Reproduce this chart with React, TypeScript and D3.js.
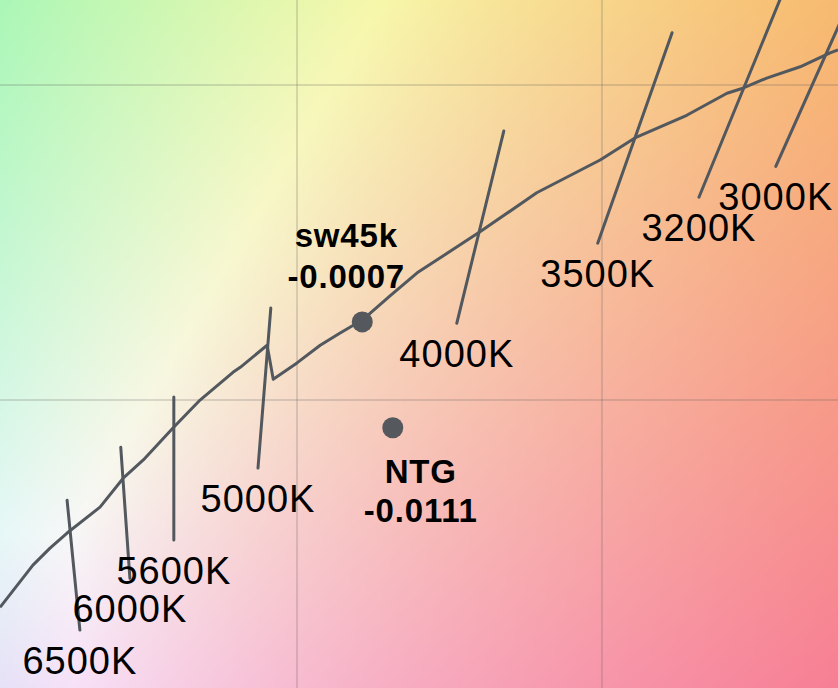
import React, { useEffect, useRef } from 'react';
import * as d3 from 'd3';

const WIDTH = 838;
const HEIGHT = 688;

// visible window of the CIE 1931 xy diagram
const xDomain = [0.3013, 0.4387];
const yDomain = [0.3043, 0.4135];

const gridX = [0.35, 0.4];
const gridY = [0.35, 0.4];

// planckian locus
const locusX = [0.3013, 0.3067, 0.3095, 0.3123, 0.3177, 0.3215, 0.3248, 0.3297, 0.3341, 0.3395, 0.3407, 0.3451, 0.3461, 0.35, 0.3538, 0.357, 0.3607, 0.3652, 0.3697, 0.38, 0.3893, 0.3997, 0.4054, 0.4139, 0.4205, 0.4231, 0.427, 0.4325, 0.4374, 0.4387];
const locusY = [0.3171, 0.3238, 0.3265, 0.3289, 0.333, 0.3376, 0.3405, 0.3456, 0.35, 0.3544, 0.3552, 0.3587, 0.3533, 0.3559, 0.3587, 0.3606, 0.3627, 0.3665, 0.3702, 0.3767, 0.3829, 0.3881, 0.3916, 0.3952, 0.3987, 0.3995, 0.4011, 0.4029, 0.4051, 0.4056];

// isotherm lines
const isoLabels = ['6500K', '6000K', '5600K', '5000K', '4000K', '3500K', '3200K', '3000K'];
const isoTopX = [0.3123, 0.3211, 0.3298, 0.3457, 0.3839, 0.4115, 0.4295, 0.4407];
const isoTopY = [0.3341, 0.3425, 0.3505, 0.3646, 0.3927, 0.4083, 0.4143, 0.4135];
const isoBottomX = [0.3144, 0.3226, 0.3298, 0.3436, 0.3762, 0.3993, 0.4159, 0.4285];
const isoBottomY = [0.3135, 0.3217, 0.3278, 0.3392, 0.3622, 0.3749, 0.3822, 0.3871];

// measured sources
const pointNames = ['sw45k', 'NTG'];
const pointX = [0.3607, 0.3657];
const pointY = [0.3624, 0.3456];
const pointDuv = ['-0.0007', '-0.0111'];

const labelPlacement = [
  { dx: -16, lines: [-75, -34] },
  { dx: 28, lines: [55, 94] },
];

const LINE_COLOR = '#52585e';
const FONT = '"Liberation Sans", Arial, Helvetica, sans-serif';

function chromaColor(cx: number, cy: number): [number, number, number] {
  const X = cx / cy;
  const Y = 1;
  const Z = (1 - cx - cy) / cy;
  let r = 3.2406 * X - 1.5372 * Y - 0.4986 * Z;
  let g = -0.9689 * X + 1.8758 * Y + 0.0415 * Z;
  let b = 0.0557 * X - 0.204 * Y + 1.057 * Z;
  r = Math.max(r, 0);
  g = Math.max(g, 0);
  b = Math.max(b, 0);
  const m = Math.max(r, g, b);
  const gam = (v: number) => {
    const c = v / m;
    const s = c <= 0.0031308 ? 12.92 * c : 1.055 * Math.pow(c, 1 / 2.4) - 0.055;
    return Math.round(255 * (0.9 * s + 0.07));
  };
  return [gam(r), gam(g), gam(b)];
}

const App = () => {
  const svgRef = useRef<SVGSVGElement>(null);

  useEffect(() => {
    const x = d3.scaleLinear().domain(xDomain).range([0, WIDTH]);
    const y = d3.scaleLinear().domain(yDomain).range([HEIGHT, 0]);

    const svg = d3.select(svgRef.current).attr('width', WIDTH).attr('height', HEIGHT);
    svg.selectAll('*').remove();

    // background colour field
    const canvas = document.createElement('canvas');
    canvas.width = WIDTH;
    canvas.height = HEIGHT;
    const ctx = canvas.getContext('2d');
    if (ctx) {
      const img = ctx.createImageData(WIDTH, HEIGHT);
      for (let py = 0; py < HEIGHT; py++) {
        const cy = y.invert(py);
        for (let px = 0; px < WIDTH; px++) {
          const [r, g, b] = chromaColor(x.invert(px), cy);
          const i = (py * WIDTH + px) * 4;
          img.data[i] = r;
          img.data[i + 1] = g;
          img.data[i + 2] = b;
          img.data[i + 3] = 255;
        }
      }
      ctx.putImageData(img, 0, 0);
      svg.append('image')
        .attr('href', canvas.toDataURL())
        .attr('x', 0)
        .attr('y', 0)
        .attr('width', WIDTH)
        .attr('height', HEIGHT);
    }

    // grid
    svg.selectAll('line.gx')
      .data(gridX)
      .enter()
      .append('line')
      .attr('x1', (d) => x(d))
      .attr('x2', (d) => x(d))
      .attr('y1', 0)
      .attr('y2', HEIGHT)
      .attr('stroke', 'rgba(90,90,90,0.2)')
      .attr('stroke-width', 2);
    svg.selectAll('line.gy')
      .data(gridY)
      .enter()
      .append('line')
      .attr('y1', (d) => y(d))
      .attr('y2', (d) => y(d))
      .attr('x1', 0)
      .attr('x2', WIDTH)
      .attr('stroke', 'rgba(90,90,90,0.2)')
      .attr('stroke-width', 2);

    // locus
    const locus = locusX.map((v, i) => [v, locusY[i]] as [number, number]);
    const line = d3.line<[number, number]>().x((d) => x(d[0])).y((d) => y(d[1]));
    svg.append('path')
      .attr('d', line(locus))
      .attr('fill', 'none')
      .attr('stroke', LINE_COLOR)
      .attr('stroke-width', 3)
      .attr('stroke-linejoin', 'round');

    // isotherms + labels
    isoLabels.forEach((label, i) => {
      svg.append('line')
        .attr('x1', x(isoTopX[i]))
        .attr('y1', y(isoTopY[i]))
        .attr('x2', x(isoBottomX[i]))
        .attr('y2', y(isoBottomY[i]))
        .attr('stroke', LINE_COLOR)
        .attr('stroke-width', 3)
        .attr('stroke-linecap', 'round');
      svg.append('text')
        .attr('x', x(isoBottomX[i]))
        .attr('y', y(isoBottomY[i]) + 44)
        .attr('text-anchor', 'middle')
        .attr('font-family', FONT)
        .attr('font-size', 38)
        .attr('letter-spacing', 1)
        .attr('fill', '#000')
        .text(label);
    });

    // points
    pointNames.forEach((name, i) => {
      const cx = x(pointX[i]);
      const cy = y(pointY[i]);
      svg.append('circle')
        .attr('cx', cx)
        .attr('cy', cy)
        .attr('r', 10.5)
        .attr('fill', '#55595d');
      const place = labelPlacement[i];
      [name, pointDuv[i]].forEach((t, j) => {
        svg.append('text')
          .attr('x', cx + place.dx)
          .attr('y', cy + place.lines[j])
          .attr('text-anchor', 'middle')
          .attr('font-family', FONT)
          .attr('font-weight', 'bold')
          .attr('font-size', 33)
          .attr('letter-spacing', 0.8)
          .attr('fill', '#000')
          .text(t);
      });
    });
  }, []);

  return (
    <svg ref={svgRef} style={{ position: 'absolute', left: 0, top: 0, display: 'block' }}></svg>
  );
};

export default App;
